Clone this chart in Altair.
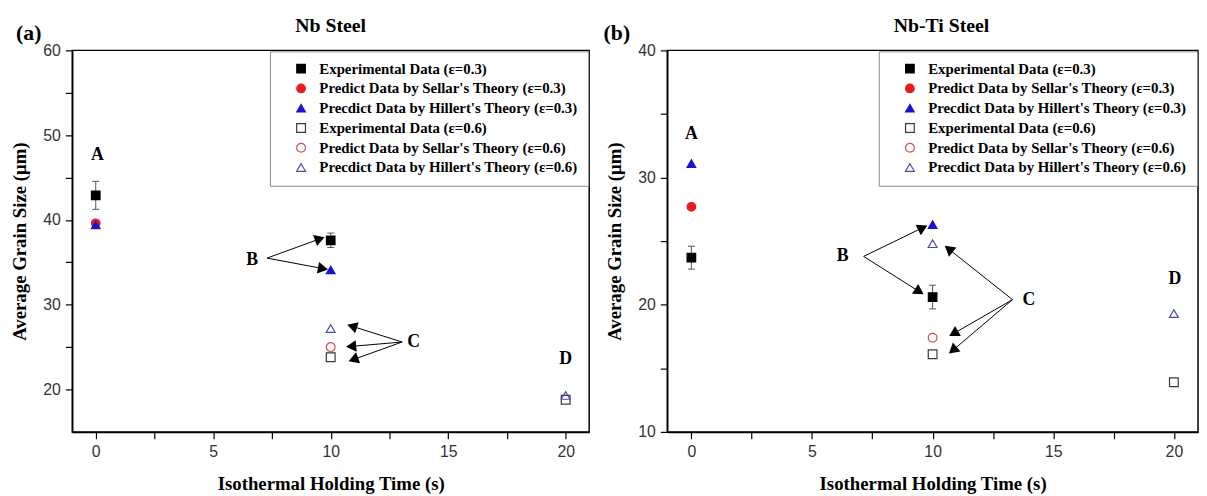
import math
import pandas as pd
import altair as alt

# ---------------- data ----------------
SERIES = [
    "Experimental Data (ε=0.3)",
    "Predict Data by Sellar's Theory (ε=0.3)",
    "Precdict Data by Hillert's Theory (ε=0.3)",
    "Experimental Data (ε=0.6)",
    "Predict Data by Sellar's Theory (ε=0.6)",
    "Precdict Data by Hillert's Theory (ε=0.6)",
]
SHAPES = ["square", "circle", "triangle-up", "square", "circle", "triangle-up"]
SIZES = [75, 80, 105, 60, 70, 95]
STROKES = ["#000000", "#e81c1c", "#1414d2", "#3a3a3a", "#d05050", "#4a4ab4"]
FILLS = ["#000000", "#e81c1c", "#1414d2", "transparent", "transparent", "transparent"]

TIME = [0, 10, 20]

# (a) Nb steel
NB_EXP03 = [42.9, 37.6, None]
NB_EXP03_ERR = [1.65, 0.85, None]
NB_SELLAR03 = [39.6, None, None]
NB_HILLERT03 = [39.4, 34.1, None]
NB_EXP06 = [None, 23.8, 18.8]
NB_SELLAR06 = [None, 25.0, None]
NB_HILLERT06 = [None, 27.2, 19.3]

NB_LETTERS = ["A", "B", "C", "D"]
NB_LETTER_T = [0.07, 6.66, 13.53, 20.0]
NB_LETTER_Y = [47.7, 35.3, 25.6, 23.6]
NB_ARROW_FROM_T = [7.29, 7.29, 13.04, 13.04, 13.04]
NB_ARROW_FROM_Y = [35.5, 35.5, 25.6, 25.6, 25.6]
NB_ARROW_TO_T = [9.47, 9.6, 10.98, 10.94, 11.03]
NB_ARROW_TO_Y = [37.7, 34.3, 27.4, 25.1, 23.6]

# (b) Nb-Ti steel
NBTI_EXP03 = [23.7, 20.6, None]
NBTI_EXP03_ERR = [0.9, 0.93, None]
NBTI_SELLAR03 = [27.7, None, None]
NBTI_HILLERT03 = [31.1, 26.3, None]
NBTI_EXP06 = [None, 16.1, 13.9]
NBTI_SELLAR06 = [None, 17.4, None]
NBTI_HILLERT06 = [None, 24.8, 19.3]

NBTI_LETTERS = ["A", "B", "C", "D"]
NBTI_LETTER_T = [0.0, 6.27, 13.99, 20.04]
NBTI_LETTER_Y = [33.4, 23.8, 20.4, 22.0]
NBTI_ARROW_FROM_T = [7.14, 7.14, 13.31, 13.31, 13.31]
NBTI_ARROW_FROM_Y = [23.8, 23.8, 20.4, 20.4, 20.4]
NBTI_ARROW_TO_T = [9.53, 9.39, 10.72, 10.93, 10.89]
NBTI_ARROW_TO_Y = [26.0, 21.1, 24.3, 17.8, 16.5]

X_DOMAIN = [-1, 21]
X_TICKS = [0, 2.5, 5, 7.5, 10, 12.5, 15, 17.5, 20]

SERIF = "Liberation Serif"
SANS = "Liberation Sans"


def make_panel(title, letter, vals, err, ydom, yticks, letters, lt, ly,
               aft, afy, att, aty, width, height, title_dx, letter_dx, label_expr):
    rows = []
    for s, series_vals in zip(SERIES, vals):
        for t, v in zip(TIME, series_vals):
            if v is not None:
                rows.append({"t": t, "v": v, "series": s})
    pts = pd.DataFrame(rows)

    err_rows = []
    cap_rows = []
    for t, v, e in zip(TIME, vals[0], err):
        if v is not None and e is not None:
            err_rows.append({"t": t, "lo": v - e, "hi": v + e})
            cap_rows.append({"t": t, "c": v - e})
            cap_rows.append({"t": t, "c": v + e})
    errs = pd.DataFrame(err_rows)
    caps = pd.DataFrame(cap_rows)

    px_x = width / (X_DOMAIN[1] - X_DOMAIN[0])
    px_y = height / (ydom[1] - ydom[0])
    arrows = pd.DataFrame({"x1": aft, "y1": afy, "x2": att, "y2": aty})
    angs = []
    for x1, y1, x2, y2 in zip(aft, afy, att, aty):
        dx = (x2 - x1) * px_x
        dy = -(y2 - y1) * px_y
        angs.append(math.degrees(math.atan2(dx, -dy)) % 360)
    heads = pd.DataFrame({"t": att, "y": aty, "ang": angs})
    labs = pd.DataFrame({"t": lt, "y": ly, "txt": letters})

    xscale = alt.Scale(domain=X_DOMAIN, nice=False, zero=False)
    yscale = alt.Scale(domain=ydom, nice=False, zero=False)

    xaxis = alt.Axis(values=X_TICKS,
                     labelExpr="datum.value % 5 === 0 ? format(datum.value, 'd') : ''",
                     title="Isothermal Holding Time (s)", titlePadding=15)
    yaxis = alt.Axis(values=yticks,
                     labelExpr="datum.value % 10 === 0 ? format(datum.value, 'd') : ''",
                     title="Average Grain Size (μm)", titlePadding=13)

    def X(field):
        return alt.X(field, type="quantitative", scale=xscale, axis=xaxis)

    def Y(field):
        return alt.Y(field, type="quantitative", scale=yscale, axis=yaxis)

    lg = dict(title=None, orient="top-right", offset=1, padding=10,
              symbolOffset=14, labelOffset=11, rowPadding=4,
              labelFont=SERIF, labelFontWeight="bold", labelFontSize=15,
              labelColor="#000000", labelLimit=500,
              strokeColor="#8a8a8a", fillColor="white",
              symbolStrokeWidth=1.2)
    if label_expr:
        lg["labelExpr"] = label_expr
    legend = alt.Legend(**lg)

    points = alt.Chart(pts).mark_point(strokeWidth=1.2, opacity=1).encode(
        x=X("t"),
        y=Y("v"),
        shape=alt.Shape("series:N", scale=alt.Scale(domain=SERIES, range=SHAPES), legend=legend),
        stroke=alt.Stroke("series:N", scale=alt.Scale(domain=SERIES, range=STROKES), legend=legend),
        fill=alt.Fill("series:N", scale=alt.Scale(domain=SERIES, range=FILLS), legend=legend),
        size=alt.Size("series:N", scale=alt.Scale(domain=SERIES, range=SIZES), legend=legend),
    )

    err_rule = alt.Chart(errs).mark_rule(color="#555555", strokeWidth=1).encode(
        x=X("t"), y=Y("lo"), y2="hi:Q",
    )
    err_cap = alt.Chart(caps).mark_point(shape="stroke", size=49, color="#555555",
                                         strokeWidth=1, opacity=1).encode(
        x=X("t"), y=Y("c"),
    )

    arrow_lines = alt.Chart(arrows).mark_rule(color="black", strokeWidth=1).encode(
        x=X("x1"), y=Y("y1"), x2="x2:Q", y2="y2:Q",
    )
    arrow_heads = alt.Chart(heads).mark_point(shape="triangle", filled=True, size=140,
                                              color="black", opacity=1).encode(
        x=X("t"), y=Y("y"),
        angle=alt.Angle("ang:Q", scale=None),
    )
    letter_marks = alt.Chart(labs).mark_text(font=SERIF, fontWeight="bold", fontSize=18,
                                             color="black").encode(
        x=X("t"), y=Y("y"), text="txt:N",
    )
    title_mark = alt.Chart(pd.DataFrame({"s": [title]})).mark_text(
        font=SERIF, fontWeight="bold", fontSize=20, color="black").encode(
        x=alt.value(width / 2 + title_dx), y=alt.value(-25), text="s:N")
    letter_mark = alt.Chart(pd.DataFrame({"s": [letter]})).mark_text(
        font=SERIF, fontWeight="bold", fontSize=22, color="black").encode(
        x=alt.value(letter_dx), y=alt.value(-17), text="s:N")

    return alt.layer(err_rule, err_cap, points, arrow_lines, arrow_heads,
                     letter_marks, title_mark, letter_mark).properties(
        width=width, height=height)


left = make_panel(
    "Nb Steel", "(a)",
    [NB_EXP03, NB_SELLAR03, NB_HILLERT03, NB_EXP06, NB_SELLAR06, NB_HILLERT06],
    NB_EXP03_ERR, [15, 60], [20, 25, 30, 35, 40, 45, 50, 55, 60],
    NB_LETTERS, NB_LETTER_T, NB_LETTER_Y,
    NB_ARROW_FROM_T, NB_ARROW_FROM_Y, NB_ARROW_TO_T, NB_ARROW_TO_Y,
    523, 386, 0, -44, None)

right = make_panel(
    "Nb-Ti Steel", "(b)",
    [NBTI_EXP03, NBTI_SELLAR03, NBTI_HILLERT03, NBTI_EXP06, NBTI_SELLAR06, NBTI_HILLERT06],
    NBTI_EXP03_ERR, [10, 40], [10, 15, 20, 25, 30, 35, 40],
    NBTI_LETTERS, NBTI_LETTER_T, NBTI_LETTER_Y,
    NBTI_ARROW_FROM_T, NBTI_ARROW_FROM_Y, NBTI_ARROW_TO_T, NBTI_ARROW_TO_Y,
    537, 386, 9, -51,
    "indexof(datum.label, 'Sellar') >= 0 ? '\u00a0' + datum.label : datum.label")

chart = alt.hconcat(left, right, spacing=12).resolve_scale(
    shape="independent", stroke="independent", fill="independent", size="independent"
).resolve_legend(
    shape="independent", stroke="independent", fill="independent", size="independent"
).properties(
    padding={"left": 2, "top": 4, "right": 0, "bottom": 0},
    background="white",
).configure_view(
    stroke="black", strokeWidth=1.5
).configure_axis(
    grid=False,
    domainColor="black", domainWidth=1.5,
    tickColor="black", tickWidth=1.2, tickSize=7,
    labelFont=SANS, labelFontSize=16, labelColor="#333333", labelPadding=5,
    titleFont=SERIF, titleFontWeight="bold", titleFontSize=19, titleColor="black",
)

chart.save("out.html", embed_options={"renderer": "svg", "actions": False})
